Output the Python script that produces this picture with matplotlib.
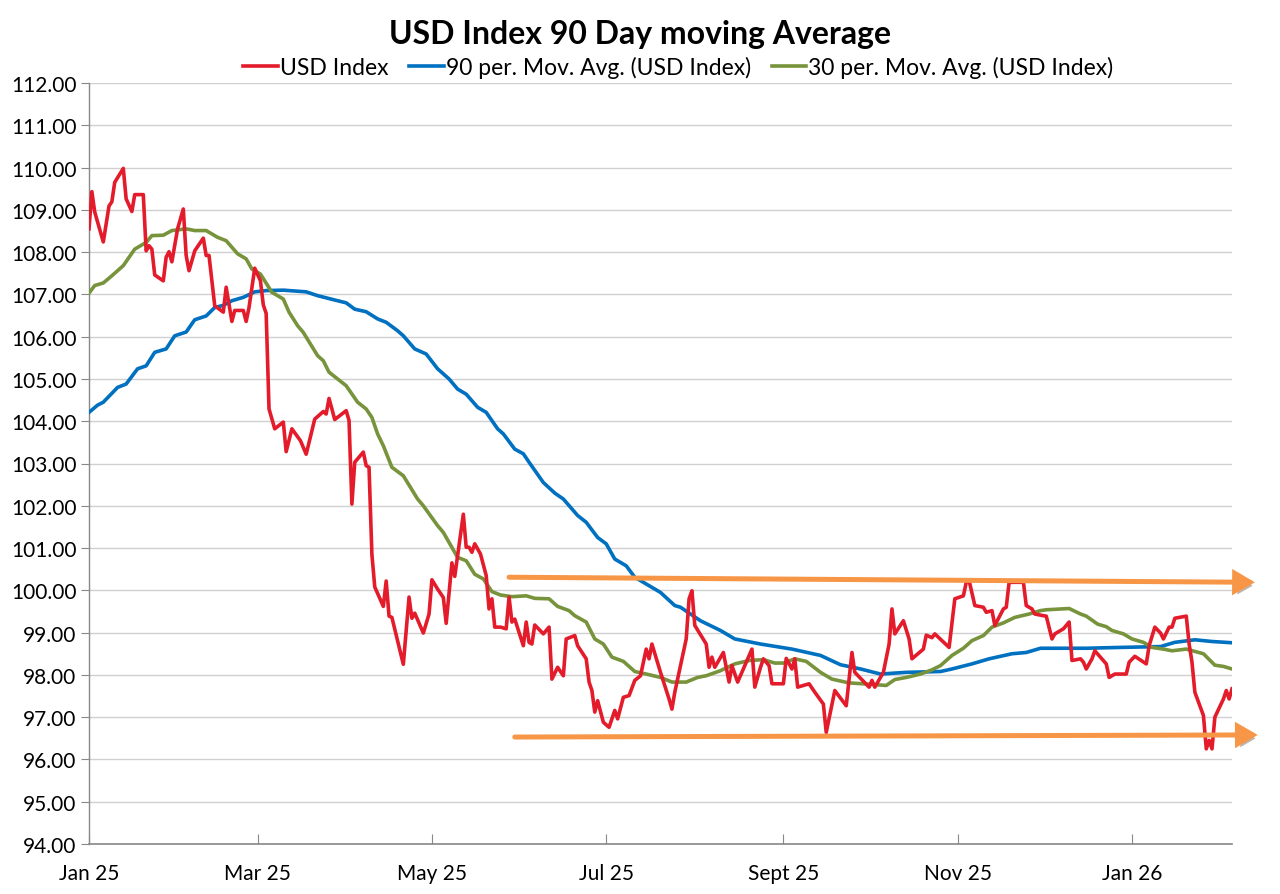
import matplotlib
matplotlib.use("Agg")
import matplotlib.pyplot as plt
import matplotlib.dates as mdates
import matplotlib.patheffects as pe
import pandas as pd

plt.rcParams['font.family'] = ['Lato', 'DejaVu Sans']

# ---------------- data ----------------
usd_dates = [
    "2025-01-01", "2025-01-02", "2025-01-03", "2025-01-06", "2025-01-08", "2025-01-09", "2025-01-10",
    "2025-01-13", "2025-01-14", "2025-01-16", "2025-01-17", "2025-01-20", "2025-01-21", "2025-01-22",
    "2025-01-23", "2025-01-24", "2025-01-27", "2025-01-28", "2025-01-29", "2025-01-30", "2025-02-01",
    "2025-02-03", "2025-02-04", "2025-02-05", "2025-02-07", "2025-02-10", "2025-02-11", "2025-02-12",
    "2025-02-14", "2025-02-17", "2025-02-18", "2025-02-20", "2025-02-21", "2025-02-24", "2025-02-25",
    "2025-02-26", "2025-02-28", "2025-03-02", "2025-03-03", "2025-03-04", "2025-03-05", "2025-03-07",
    "2025-03-10", "2025-03-11", "2025-03-13", "2025-03-16", "2025-03-18", "2025-03-21", "2025-03-24",
    "2025-03-25", "2025-03-26", "2025-03-28", "2025-04-01", "2025-04-02", "2025-04-03", "2025-04-04",
    "2025-04-07", "2025-04-08", "2025-04-09", "2025-04-10", "2025-04-11", "2025-04-14", "2025-04-15",
    "2025-04-16", "2025-04-17", "2025-04-21", "2025-04-23", "2025-04-24", "2025-04-25", "2025-04-28",
    "2025-04-30", "2025-05-01", "2025-05-03", "2025-05-05", "2025-05-06", "2025-05-08", "2025-05-09",
    "2025-05-12", "2025-05-13", "2025-05-14", "2025-05-15", "2025-05-16", "2025-05-18", "2025-05-20",
    "2025-05-21", "2025-05-22", "2025-05-23", "2025-05-25", "2025-05-27", "2025-05-28", "2025-05-29",
    "2025-05-30", "2025-06-02", "2025-06-03", "2025-06-04", "2025-06-05", "2025-06-06", "2025-06-09",
    "2025-06-11", "2025-06-12", "2025-06-14", "2025-06-16", "2025-06-17", "2025-06-20", "2025-06-21",
    "2025-06-24", "2025-06-25", "2025-06-26", "2025-06-27", "2025-06-28", "2025-06-30", "2025-07-02",
    "2025-07-04", "2025-07-05", "2025-07-07", "2025-07-09", "2025-07-11", "2025-07-13", "2025-07-15",
    "2025-07-16", "2025-07-17", "2025-07-20", "2025-07-23", "2025-07-24", "2025-07-25", "2025-07-27",
    "2025-07-29", "2025-07-30", "2025-07-31", "2025-08-01", "2025-08-05", "2025-08-06", "2025-08-07",
    "2025-08-08", "2025-08-11", "2025-08-13", "2025-08-14", "2025-08-16", "2025-08-21", "2025-08-22",
    "2025-08-24", "2025-08-25", "2025-08-27", "2025-08-28", "2025-09-01", "2025-09-02", "2025-09-04",
    "2025-09-05", "2025-09-06", "2025-09-10", "2025-09-12", "2025-09-15", "2025-09-16", "2025-09-19",
    "2025-09-23", "2025-09-25", "2025-09-26", "2025-10-01", "2025-10-02", "2025-10-03", "2025-10-06",
    "2025-10-08", "2025-10-09", "2025-10-10", "2025-10-13", "2025-10-15", "2025-10-16", "2025-10-20",
    "2025-10-21", "2025-10-23", "2025-10-24", "2025-10-29", "2025-10-31", "2025-11-03", "2025-11-04",
    "2025-11-05", "2025-11-07", "2025-11-10", "2025-11-11", "2025-11-13", "2025-11-14", "2025-11-17",
    "2025-11-18", "2025-11-19", "2025-11-24", "2025-11-25", "2025-11-27", "2025-11-28", "2025-12-01",
    "2025-12-02", "2025-12-04", "2025-12-05", "2025-12-08", "2025-12-09", "2025-12-10", "2025-12-11",
    "2025-12-14", "2025-12-15", "2025-12-16", "2025-12-18", "2025-12-19", "2025-12-23", "2025-12-24",
    "2025-12-26", "2025-12-30", "2025-12-31", "2026-01-02", "2026-01-06", "2026-01-07", "2026-01-09",
    "2026-01-11", "2026-01-12", "2026-01-14", "2026-01-15", "2026-01-16", "2026-01-20", "2026-01-21",
    "2026-01-22", "2026-01-23", "2026-01-26", "2026-01-27", "2026-01-28", "2026-01-29", "2026-01-30",
    "2026-02-02", "2026-02-03", "2026-02-04", "2026-02-05",
]
usd_values = [
    108.55, 109.43, 108.95, 108.24, 109.09, 109.19, 109.65,
    109.98, 109.26, 108.96, 109.36, 109.36, 108.03, 108.15,
    108.07, 107.46, 107.32, 107.88, 108.01, 107.77, 108.55,
    109.02, 107.92, 107.56, 108.03, 108.33, 107.92, 107.92,
    106.73, 106.58, 107.17, 106.36, 106.62, 106.62, 106.36,
    106.69, 107.62, 107.32, 106.75, 106.55, 104.29, 103.82,
    103.98, 103.28, 103.82, 103.54, 103.22, 104.05, 104.23,
    104.17, 104.54, 104.04, 104.25, 104.02, 102.04, 103.03,
    103.27, 102.95, 102.91, 100.85, 100.08, 99.62, 100.22,
    99.39, 99.36, 98.25, 99.84, 99.34, 99.46, 98.99,
    99.44, 100.25, 100.03, 99.83, 99.22, 100.65, 100.33,
    101.80, 101.02, 101.02, 100.90, 101.10, 100.86, 100.35,
    99.56, 99.80, 99.13, 99.13, 99.09, 99.84, 99.25,
    99.32, 98.69, 99.25, 98.77, 98.73, 99.18, 98.97,
    99.13, 97.90, 98.18, 97.98, 98.85, 98.93, 98.69,
    98.38, 97.83, 97.63, 97.12, 97.39, 96.88, 96.76,
    97.16, 96.96, 97.47, 97.51, 97.87, 97.98, 98.61,
    98.38, 98.73, 98.06, 97.43, 97.19, 97.59, 98.22,
    98.85, 99.80, 99.99, 99.17, 98.73, 98.18, 98.42,
    98.18, 98.53, 97.83, 98.22, 97.83, 98.61, 97.71,
    98.18, 98.38, 98.22, 97.79, 97.79, 98.39, 98.14,
    98.38, 97.71, 97.79, 97.59, 97.31, 96.64, 97.63,
    97.27, 98.53, 98.06, 97.71, 97.87, 97.71, 98.06,
    98.73, 99.56, 98.97, 99.28, 98.85, 98.38, 98.61,
    98.94, 98.88, 98.97, 98.65, 99.80, 99.87, 100.19,
    100.23, 99.64, 99.60, 99.48, 99.52, 99.17, 99.56,
    99.60, 100.19, 100.19, 99.64, 99.56, 99.44, 99.40,
    99.39, 98.85, 98.97, 99.09, 99.17, 99.25, 98.34,
    98.38, 98.30, 98.14, 98.38, 98.57, 98.26, 97.94,
    98.02, 98.02, 98.30, 98.44, 98.26, 98.69, 99.13,
    98.99, 98.85, 99.13, 99.13, 99.34, 99.39, 98.73,
    98.30, 97.59, 97.04, 96.25, 96.45, 96.25, 97.00,
    97.43, 97.63, 97.43, 97.67,
]

ma90_dates = [
    "2025-01-01", "2025-01-04", "2025-01-06", "2025-01-11", "2025-01-14", "2025-01-18", "2025-01-21",
    "2025-01-24", "2025-01-28", "2025-01-31", "2025-02-04", "2025-02-07", "2025-02-11", "2025-02-14",
    "2025-02-17", "2025-02-20", "2025-02-24", "2025-02-28", "2025-03-04", "2025-03-10", "2025-03-18",
    "2025-03-22", "2025-03-29", "2025-04-01", "2025-04-04", "2025-04-08", "2025-04-12", "2025-04-15",
    "2025-04-19", "2025-04-21", "2025-04-25", "2025-04-29", "2025-05-03", "2025-05-07", "2025-05-10",
    "2025-05-13", "2025-05-17", "2025-05-20", "2025-05-24", "2025-05-26", "2025-05-30", "2025-06-02",
    "2025-06-04", "2025-06-09", "2025-06-13", "2025-06-16", "2025-06-21", "2025-06-24", "2025-06-28",
    "2025-07-01", "2025-07-04", "2025-07-08", "2025-07-11", "2025-07-16", "2025-07-20", "2025-07-25",
    "2025-07-27", "2025-08-03", "2025-08-10", "2025-08-15", "2025-08-24", "2025-09-04", "2025-09-14",
    "2025-09-21", "2025-09-28", "2025-10-05", "2025-10-14", "2025-10-26", "2025-10-30", "2025-11-06",
    "2025-11-12", "2025-11-20", "2025-11-25", "2025-11-30", "2025-12-16", "2025-12-28", "2026-01-11",
    "2026-01-16", "2026-01-23", "2026-01-29", "2026-02-05",
]
ma90_values = [
    104.21, 104.38, 104.45, 104.80, 104.88, 105.24, 105.31,
    105.63, 105.71, 106.02, 106.11, 106.40, 106.49, 106.69,
    106.74, 106.85, 106.93, 107.06, 107.09, 107.10, 107.06,
    106.97, 106.85, 106.80, 106.65, 106.59, 106.42, 106.34,
    106.14, 106.02, 105.71, 105.59, 105.24, 105.00, 104.76,
    104.64, 104.33, 104.21, 103.82, 103.70, 103.34, 103.23,
    103.03, 102.55, 102.30, 102.16, 101.77, 101.61, 101.25,
    101.10, 100.74, 100.58, 100.31, 100.11, 99.95, 99.64,
    99.60, 99.28, 99.05, 98.85, 98.73, 98.61, 98.46,
    98.24, 98.14, 98.02, 98.06, 98.08, 98.14, 98.26,
    98.38, 98.50, 98.53, 98.63, 98.63, 98.65, 98.67,
    98.77, 98.83, 98.79, 98.76,
]

ma30_dates = [
    "2025-01-01", "2025-01-03", "2025-01-06", "2025-01-09", "2025-01-11", "2025-01-13", "2025-01-17",
    "2025-01-21", "2025-01-23", "2025-01-27", "2025-01-30", "2025-02-04", "2025-02-07", "2025-02-11",
    "2025-02-15", "2025-02-18", "2025-02-22", "2025-02-25", "2025-02-27", "2025-03-02", "2025-03-06",
    "2025-03-10", "2025-03-12", "2025-03-15", "2025-03-17", "2025-03-22", "2025-03-24", "2025-03-26",
    "2025-03-29", "2025-04-01", "2025-04-05", "2025-04-08", "2025-04-10", "2025-04-12", "2025-04-14",
    "2025-04-17", "2025-04-21", "2025-04-26", "2025-04-28", "2025-05-03", "2025-05-05", "2025-05-10",
    "2025-05-13", "2025-05-16", "2025-05-19", "2025-05-22", "2025-05-25", "2025-05-29", "2025-06-03",
    "2025-06-06", "2025-06-11", "2025-06-14", "2025-06-18", "2025-06-20", "2025-06-24", "2025-06-27",
    "2025-06-30", "2025-07-03", "2025-07-07", "2025-07-11", "2025-07-15", "2025-07-20", "2025-07-24",
    "2025-07-29", "2025-08-02", "2025-08-05", "2025-08-10", "2025-08-15", "2025-08-20", "2025-08-25",
    "2025-08-29", "2025-09-01", "2025-09-05", "2025-09-09", "2025-09-14", "2025-09-18", "2025-09-24",
    "2025-10-01", "2025-10-07", "2025-10-10", "2025-10-14", "2025-10-19", "2025-10-23", "2025-10-26",
    "2025-10-30", "2025-11-03", "2025-11-06", "2025-11-10", "2025-11-13", "2025-11-17", "2025-11-21",
    "2025-11-26", "2025-11-30", "2025-12-02", "2025-12-10", "2025-12-14", "2025-12-16", "2025-12-20",
    "2025-12-23", "2025-12-25", "2025-12-29", "2026-01-01", "2026-01-05", "2026-01-08", "2026-01-12",
    "2026-01-15", "2026-01-20", "2026-01-26", "2026-01-30", "2026-02-02", "2026-02-05",
]
ma30_values = [
    107.03, 107.21, 107.27, 107.44, 107.56, 107.68, 108.07,
    108.23, 108.39, 108.40, 108.51, 108.55, 108.51, 108.51,
    108.35, 108.27, 107.96, 107.84, 107.60, 107.48, 107.05,
    106.89, 106.58, 106.26, 106.10, 105.55, 105.43, 105.16,
    105.00, 104.84, 104.45, 104.29, 104.09, 103.70, 103.42,
    102.91, 102.71, 102.16, 102.00, 101.53, 101.37, 100.78,
    100.70, 100.38, 100.27, 99.97, 99.89, 99.85, 99.87,
    99.81, 99.80, 99.62, 99.52, 99.40, 99.25, 98.85,
    98.73, 98.42, 98.32, 98.08, 98.02, 97.94, 97.83,
    97.83, 97.94, 97.98, 98.10, 98.26, 98.34, 98.36,
    98.28, 98.28, 98.38, 98.32, 98.06, 97.90, 97.81,
    97.78, 97.75, 97.89, 97.94, 98.02, 98.12, 98.22,
    98.46, 98.63, 98.81, 98.93, 99.13, 99.23, 99.36,
    99.44, 99.52, 99.54, 99.57, 99.44, 99.39, 99.20,
    99.14, 99.05, 98.97, 98.85, 98.77, 98.65, 98.61,
    98.57, 98.61, 98.50, 98.23, 98.20, 98.14,
]

# resistance / support arrows (start date, end date, start value, end value)
upper_arrow_dates = ["2025-05-28", "2026-02-13"]
upper_arrow_values = [100.31, 100.19]
lower_arrow_dates = ["2025-05-30", "2026-02-14"]
lower_arrow_values = [96.53, 96.58]

tick_dates = ["2025-01-01", "2025-03-01", "2025-05-01", "2025-07-01",
              "2025-09-01", "2025-11-01", "2026-01-01"]
tick_labels = ["Jan 25", "Mar 25", "May 25", "Jul 25", "Sept 25", "Nov 25", "Jan 26"]
y_ticks = list(range(94, 113))

title = "USD Index 90 Day moving Average"
series_names = ["USD Index", "90 per. Mov. Avg. (USD Index)", "30 per. Mov. Avg. (USD Index)"]

# ---------------- plot ----------------
RED = "#E31B2B"
BLUE = "#0070C0"
GREEN = "#77933C"
ORANGE = "#F79646"

fig = plt.figure(figsize=(12.8, 8.95), dpi=100)
ax = fig.add_axes([89 / 1280, 1 - 845 / 895, (1232 - 89) / 1280, (845 - 84) / 895])

ax.plot(pd.to_datetime(usd_dates), usd_values, color=RED, lw=2.6, label=series_names[0],
        solid_joinstyle="round", zorder=4)
ax.plot(pd.to_datetime(ma90_dates), ma90_values, color=BLUE, lw=2.6, label=series_names[1],
        solid_joinstyle="round", zorder=3)
ax.plot(pd.to_datetime(ma30_dates), ma30_values, color=GREEN, lw=2.6, label=series_names[2],
        solid_joinstyle="round", zorder=3)

shadow = [pe.SimplePatchShadow(offset=(2, -2.5), alpha=0.35), pe.Normal()]
for dts, vals in ((upper_arrow_dates, upper_arrow_values), (lower_arrow_dates, lower_arrow_values)):
    d = pd.to_datetime(dts)
    ax.annotate("", xy=(mdates.date2num(d[1]), vals[1]), xytext=(mdates.date2num(d[0]), vals[0]),
                xycoords="data", textcoords="data", annotation_clip=False,
                arrowprops=dict(arrowstyle="-|>,head_length=0.55,head_width=0.32", lw=3.6,
                                color=ORANGE, shrinkA=0, shrinkB=0, mutation_scale=20,
                                joinstyle="miter", path_effects=shadow),
                zorder=5)

ax.set_ylim(94, 112)
ax.set_yticks(y_ticks)
ax.set_yticklabels([f"{v:.2f}" for v in y_ticks])
ax.set_xlim(pd.Timestamp("2025-01-01"), pd.Timestamp(usd_dates[-1]))
ax.set_xticks(pd.to_datetime(tick_dates))
ax.set_xticklabels(tick_labels)

ax.grid(axis="y", color="#D0D0D0", lw=1.0)
ax.set_axisbelow(True)
for s in ("top", "right"):
    ax.spines[s].set_visible(False)
ax.spines["left"].set_color("#888888")
ax.spines["bottom"].set_color("#888888")
ax.spines["left"].set_linewidth(1.0)
ax.spines["bottom"].set_linewidth(1.2)

ax.tick_params(axis="y", direction="out", length=6, color="#888888", labelsize=15, pad=3)
ax.tick_params(axis="x", direction="in", length=7, color="#888888", labelsize=15, pad=14)

fig.text(0.5, 0.961, title, ha="center", va="center", fontsize=23, fontweight="bold")
fig.legend(loc="center", bbox_to_anchor=(0.53, 0.924), ncol=3, frameon=False,
           fontsize=16.5, handlelength=1.5, handletextpad=0.1, columnspacing=0.9)

fig.savefig("out.png", dpi=100)
